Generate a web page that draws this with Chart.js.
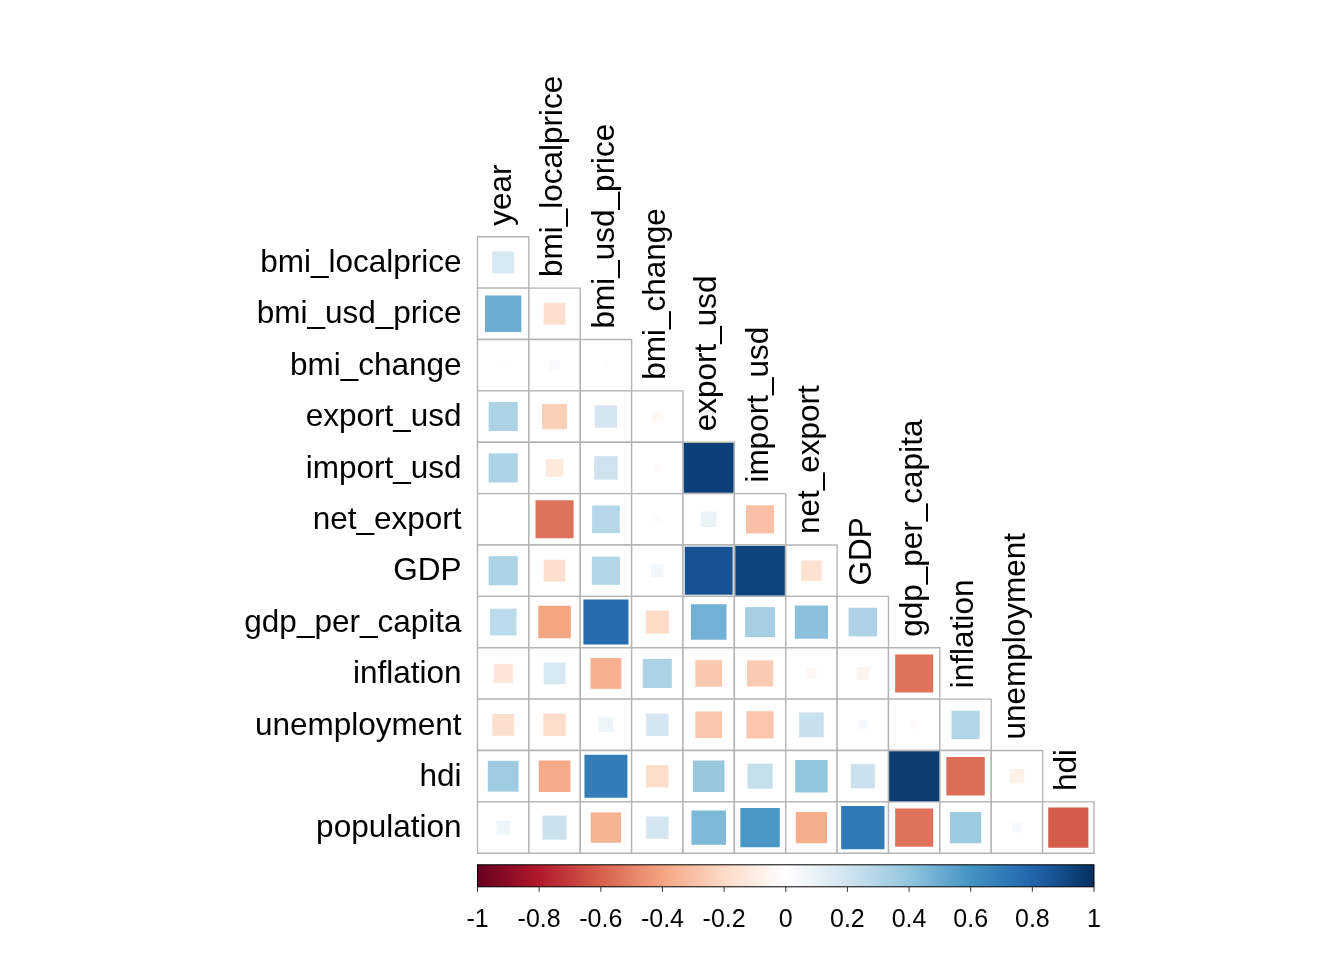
<!DOCTYPE html>
<html>
<head>
<meta charset="utf-8">
<title>Correlation matrix</title>
<style>
  html, body { margin: 0; background: #ffffff; }
  canvas { display: block; }
</style>
<script src="https://cdn.jsdelivr.net/npm/chart.js@4.4.1/dist/chart.umd.min.js"></script>
</head>
<body>
<canvas id="corr" width="1344" height="960"></canvas>
<script>
// Lower-triangle correlation plot (corrplot "square" style), one row array
// per variable.

const colLabels = ["year", "bmi_localprice", "bmi_usd_price", "bmi_change", "export_usd",
  "import_usd", "net_export", "GDP", "gdp_per_capita", "inflation", "unemployment", "hdi"];
const rowLabels = ["bmi_localprice", "bmi_usd_price", "bmi_change", "export_usd", "import_usd",
  "net_export", "GDP", "gdp_per_capita", "inflation", "unemployment", "hdi", "population"];

const bmiLocalprice = [0.18];
const bmiUsdPrice   = [0.50, -0.18];
const bmiChange     = [0.01, 0.04, -0.01];
const exportUsd     = [0.32, -0.24, 0.19, -0.04];
const importUsd     = [0.32, -0.12, 0.21, -0.02, 0.94];
const netExport     = [0.005, -0.55, 0.29, -0.02, 0.09, -0.30];
const gdp           = [0.32, -0.18, 0.30, 0.06, 0.87, 0.93, -0.16];
const gdpPerCapita  = [0.27, -0.40, 0.77, -0.20, 0.48, 0.34, 0.42, 0.31];
const inflation     = [-0.14, 0.18, -0.36, 0.32, -0.27, -0.26, -0.04, -0.06, -0.55];
const unemployment  = [-0.18, -0.19, 0.08, 0.19, -0.27, -0.28, 0.23, 0.03, -0.02, 0.30];
const hdi           = [0.36, -0.38, 0.70, -0.19, 0.38, 0.24, 0.40, 0.22, 0.95, -0.56, -0.08];
const population    = [0.07, 0.22, -0.35, 0.19, 0.45, 0.59, -0.37, 0.71, -0.55, 0.37, 0.035, -0.61];

const rowValues = [bmiLocalprice, bmiUsdPrice, bmiChange, exportUsd, importUsd, netExport,
  gdp, gdpPerCapita, inflation, unemployment, hdi, population];

const colorbarTicks = [-1, -0.8, -0.6, -0.4, -0.2, 0, 0.2, 0.4, 0.6, 0.8, 1];

// RdBu ramp as used by corrplot (COL2('RdBu'))
const RAMP = ["#67001F", "#B2182B", "#D6604D", "#F4A582", "#FDDBC7", "#FFFFFF",
  "#D1E5F0", "#92C5DE", "#4393C3", "#2166AC", "#053061"];

function hexRgb(h) {
  return [parseInt(h.slice(1, 3), 16), parseInt(h.slice(3, 5), 16), parseInt(h.slice(5, 7), 16)];
}

function corrColor(v) {
  const t = (Math.max(-1, Math.min(1, v)) + 1) / 2 * (RAMP.length - 1);
  const i = Math.min(RAMP.length - 2, Math.floor(t));
  const f = t - i;
  const a = hexRgb(RAMP[i]), b = hexRgb(RAMP[i + 1]);
  const c = a.map((av, k) => Math.round(av + (b[k] - av) * f));
  return `rgb(${c[0]},${c[1]},${c[2]})`;
}

// ── Points ────────────────────────────────────────────────────────

const squares = [];
const cells = [];
rowValues.forEach((vals, r) => {
  vals.forEach((v, c) => {
    squares.push({ x: c, y: r, v });
    cells.push({ x: c, y: r });
  });
});

function cellPx(chart) {
  const sx = chart.scales.x;
  return Math.abs(sx.getPixelForValue(1) - sx.getPixelForValue(0));
}

const FONT = '"Liberation Sans", Arial, Helvetica, sans-serif';

// ── Labels + colour legend ────────────────────────────────────────

const labelsPlugin = {
  id: "corrLabels",
  afterDraw(chart) {
    const { ctx } = chart;
    const { x, y, cb } = chart.scales;
    ctx.save();
    ctx.fillStyle = "#000000";
    ctx.font = `31.5px ${FONT}`;

    // row labels
    ctx.textAlign = "right";
    ctx.textBaseline = "middle";
    const left = x.getPixelForValue(-0.5);
    rowLabels.forEach((lab, i) => ctx.fillText(lab, left - 16, y.getPixelForValue(i) + 1));

    // column labels, rotated, sitting on the diagonal
    colLabels.forEach((lab, j) => {
      const px = x.getPixelForValue(j);
      const top = y.getPixelForValue(j - 0.5) - 11;
      ctx.save();
      ctx.translate(px - 1, top);
      ctx.rotate(-Math.PI / 2);
      ctx.textAlign = "left";
      ctx.textBaseline = "middle";
      ctx.fillText(lab, 0, 0);
      ctx.restore();
    });

    // colour bar
    const x0 = cb.getPixelForValue(-1), x1 = cb.getPixelForValue(1);
    const barTop = y.getPixelForValue(11.5) + 11.5;
    const barH = 22;
    const grad = ctx.createLinearGradient(x0, 0, x1, 0);
    RAMP.forEach((c, i) => grad.addColorStop(i / (RAMP.length - 1), c));
    ctx.fillStyle = grad;
    ctx.fillRect(x0, barTop, x1 - x0, barH);
    ctx.strokeStyle = "#000000";
    ctx.lineWidth = 1;
    ctx.strokeRect(x0, barTop, x1 - x0, barH);

    ctx.strokeStyle = "#333333";
    ctx.fillStyle = "#000000";
    ctx.font = `25px ${FONT}`;
    ctx.textAlign = "center";
    ctx.textBaseline = "middle";
    colorbarTicks.forEach((t) => {
      const px = cb.getPixelForValue(t);
      ctx.beginPath();
      ctx.moveTo(px, barTop + barH);
      ctx.lineTo(px, barTop + barH + 5);
      ctx.stroke();
      ctx.fillText(String(t), px, barTop + barH + 33);
    });
    ctx.restore();
  },
};

new Chart(document.getElementById("corr"), {
  type: "scatter",
  data: {
    datasets: [
      {
        label: "corr",
        data: squares,
        clip: false,
        pointStyle: "rect",
        pointRadius: (c) => Math.sqrt(Math.abs(c.raw.v)) * cellPx(c.chart) / Math.SQRT2,
        pointBackgroundColor: (c) => corrColor(c.raw.v),
        pointBorderWidth: 0,
      },
      {
        label: "cells",
        data: cells,
        clip: false,
        pointStyle: "rect",
        pointRadius: (c) => cellPx(c.chart) / Math.SQRT2,
        pointBackgroundColor: "#ffffff",
        pointBorderColor: "#b4b4b4",
        pointBorderWidth: 1.4,
      },
    ],
  },
  options: {
    responsive: false,
    animation: false,
    devicePixelRatio: 1,
    events: [],
    layout: { padding: { left: 477.5, right: 250, top: 236.7, bottom: 106.7 } },
    plugins: { legend: { display: false }, tooltip: { enabled: false } },
    scales: {
      x: { type: "linear", min: -0.5, max: 11.5, display: false },
      y: { type: "linear", min: -0.5, max: 11.5, reverse: true, display: false },
      cb: { type: "linear", axis: "x", position: "bottom", min: -1, max: 1, display: false },
    },
  },
  plugins: [labelsPlugin],
});
</script>
</body>
</html>
